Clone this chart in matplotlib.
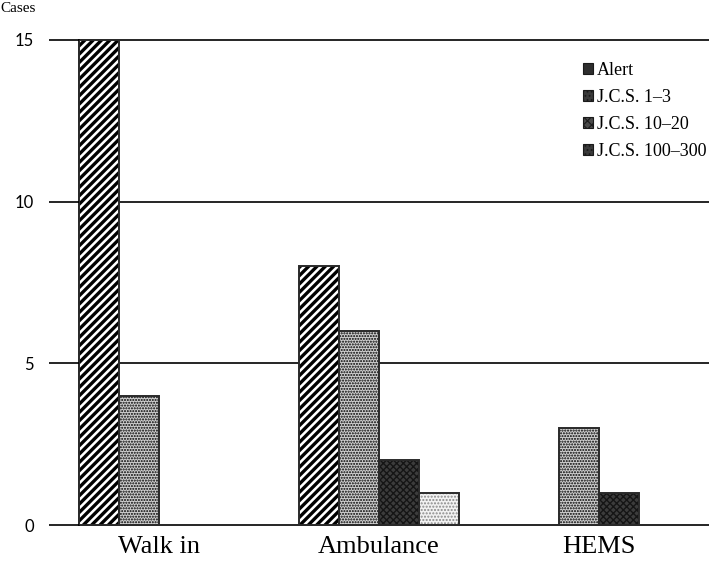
import numpy as np
import matplotlib
matplotlib.use('Agg')
import matplotlib.pyplot as plt
from matplotlib.patches import Patch

# data
groups = ['Walk in', 'Ambulance', 'HEMS']
series = ['Alert', 'J.C.S. 1\u20133', 'J.C.S. 10\u201320', 'J.C.S. 100\u2013300']
alert = [15, 8, 0]
jcs_1_3 = [4, 6, 3]
jcs_10_20 = [0, 2, 1]
jcs_100_300 = [0, 1, 0]
yticks = [0, 5, 10, 15]

values = [alert, jcs_1_3, jcs_10_20, jcs_100_300]
# (facecolor, hatch, hatch colour, hatch width)
styles = [('white', '////', 'black', 2.4),
          ('#cfcfcf', '......', 'black', 1.0),
          ('#3c3c3c', 'xxxxx', '#151515', 1.0),
          ('#f2f2f2', '.....', '#8a8a8a', 1.0)]
legend_fc = ['#2e2e2e', '#3a3a3a', '#4a4a4a', '#3a3a3a']
legend_hatch = [None, '....', 'xxxx', '....']

W, H, DPI = 709, 565, 100
fig = plt.figure(figsize=(W / DPI, H / DPI), dpi=DPI)
ax = fig.add_axes([79 / W, 40 / H, (W - 79) / W, 485 / H])

x = np.arange(len(groups))
bw = 40 / 220.
for i, (vals, (fc, hatch, hc, hlw)) in enumerate(zip(values, styles)):
    pos = x + (i - 1.5) * bw
    plt.rcParams['hatch.linewidth'] = hlw
    ax.bar(pos, vals, width=bw, color=fc, hatch=hatch, edgecolor=hc,
           linewidth=0, zorder=3)
    ax.bar(pos, vals, width=bw, fill=False, edgecolor='#2a2a2a',
           linewidth=1.4, zorder=4)

plt.rcParams['hatch.linewidth'] = 0.8
handles = [Patch(facecolor=legend_fc[i], edgecolor='#1a1a1a',
                 hatch=legend_hatch[i], linewidth=0.8, label=series[i])
           for i in range(len(series))]

ax.set_xlim(-80 / 220., (W - 79 - 80) / 220.)
ax.set_ylim(0, 15)

for yv in yticks[1:]:
    ax.axhline(yv, color='black', linewidth=1.2, zorder=1, clip_on=False)

for s in ['top', 'right']:
    ax.spines[s].set_visible(False)
ax.spines['left'].set_linewidth(1.2)
ax.spines['bottom'].set_linewidth(1.2)

ax.set_yticks(yticks)
ax.tick_params(axis='y', direction='out', length=21.6, width=1.2, pad=11,
               labelsize=12, labelfontfamily='Lato')
ax.set_xticks(x)
ax.set_xticklabels(groups, fontfamily='Liberation Serif', fontsize=19)
ax.tick_params(axis='x', length=0, pad=8)

fig.text(0.0, 1 - 2 / H, 'Cases', fontfamily='Liberation Serif', fontsize=11,
         ha='left', va='top')

leg = ax.legend(handles=handles, loc='upper right', bbox_to_anchor=(1.022, 0.988),
                frameon=False, prop={'family': 'Liberation Serif', 'size': 13},
                handlelength=0.6, handleheight=0.6, handletextpad=0.2,
                labelspacing=0.55)

fig.savefig('out.png', dpi=DPI)
